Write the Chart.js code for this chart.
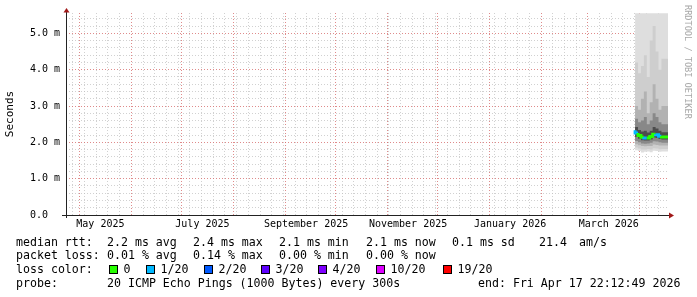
<!DOCTYPE html>
<html>
<head>
<meta charset="utf-8">
<script src="https://cdn.jsdelivr.net/npm/chart.js@4.4.1/dist/chart.umd.min.js"></script>
<style>
  body { margin: 0; background: #fff; }
  #wrap { position: relative; width: 697px; height: 297px; font-family: 'DejaVu Sans Mono', monospace; }
  canvas { position: absolute; left: 0; top: 0; }
  .t { position: absolute; font-size: 11.6px; line-height: 14px; white-space: pre; color: #000; }
  .box { position: absolute; width: 7px; height: 7px; border: 1px solid #000; }
  #credit { position: absolute; left: 683px; top: 5px; writing-mode: vertical-rl; font-size: 8.6px; color: #a8a8a8; white-space: pre; }
</style>
</head>
<body>
<div id="wrap">
  <canvas id="chart" width="697" height="297"></canvas>
  <div id="credit">RRDTOOL / TOBI OETIKER</div>
</div>
<script>
// time range: last 360 days up to the end stamp
const END = Date.UTC(2026, 3, 17, 22, 12, 49);
const DAY = 86400000;
const START = END - 360 * DAY;

// samples (only the last ~3 weeks hold data)
const times = [
  '2026-03-29T06:00Z', '2026-03-31T00:00Z', '2026-04-01T18:00Z', '2026-04-03T12:00Z',
  '2026-04-05T06:00Z', '2026-04-07T00:00Z', '2026-04-08T18:00Z', '2026-04-10T12:00Z',
  '2026-04-12T06:00Z', '2026-04-14T00:00Z', '2026-04-15T18:00Z', '2026-04-17T22:00Z'
];
// median rtt in ms
const median   = [2.33, 2.26, 2.19, 2.14, 2.12, 2.12, 2.16, 2.22, 2.21, 2.17, 2.15, 2.15];
// lost pings out of 20
const lost     = [1, 0, 0, 1, 0, 0, 0, 1, 1, 0, 0, 0];

// smoke bands, outer (light) to inner (dark), in ms
const smoke1Lo = [1.80, 1.78, 1.76, 1.72, 1.74, 1.75, 1.73, 1.77, 1.76, 1.74, 1.75, 1.75];
const smoke1Hi = [5.55, 5.55, 5.55, 5.55, 5.55, 5.55, 5.55, 5.55, 5.55, 5.55, 5.55, 5.55];
const smoke2Lo = [1.88, 1.86, 1.83, 1.80, 1.80, 1.82, 1.80, 1.84, 1.83, 1.81, 1.82, 1.82];
const smoke2Hi = [4.60, 4.20, 3.90, 4.10, 4.40, 3.80, 4.80, 5.20, 4.50, 4.00, 4.30, 4.30];
const smoke3Lo = [1.97, 1.95, 1.92, 1.90, 1.89, 1.90, 1.90, 1.94, 1.93, 1.91, 1.91, 1.91];
const smoke3Hi = [3.30, 3.00, 2.90, 3.20, 3.40, 2.80, 3.10, 3.60, 3.20, 2.90, 3.00, 3.00];
const smoke4Lo = [2.08, 2.04, 2.00, 1.97, 1.96, 1.97, 1.99, 2.03, 2.02, 2.00, 1.99, 1.99];
const smoke4Hi = [2.75, 2.65, 2.55, 2.60, 2.70, 2.50, 2.60, 2.80, 2.70, 2.55, 2.50, 2.50];
const smoke5Lo = [2.20, 2.15, 2.10, 2.06, 2.05, 2.05, 2.08, 2.13, 2.12, 2.09, 2.08, 2.08];
const smoke5Hi = [2.50, 2.42, 2.34, 2.30, 2.32, 2.27, 2.32, 2.42, 2.38, 2.32, 2.28, 2.28];
const smokeColors = ['#dedede', '#cecece', '#b2b2b2', '#888888', '#4c4c4c'];

// x axis labels
const monthLabels = ['May 2025', 'July 2025', 'September 2025', 'November 2025', 'January 2026', 'March 2026'];
const labelMonths = [[2025, 4], [2025, 6], [2025, 8], [2025, 10], [2026, 0], [2026, 2]];

// legend
const medianStats = ['2.2 ms avg', '2.4 ms max', '2.1 ms min', '2.1 ms now', '0.1 ms sd', '21.4', 'am/s'];
const lossStats = ['0.01 % avg', '0.14 % max', '0.00 % min', '0.00 % now'];
const lossLevels = [0, 1, 2, 3, 4, 10, 19];
const lossNames = ['0', '1/20', '2/20', '3/20', '4/20', '10/20', '19/20'];
const lossColors = ['#26ff00', '#00b8ff', '#0059ff', '#5e00ff', '#7e00ff', '#dd00ff', '#ff0000'];
const probeText = '20 ICMP Echo Pings (1000 Bytes) every 300s';
const endText = 'end: Fri Apr 17 22:12:49 2026';

const FONT = "'DejaVu Sans Mono', monospace";

function lossColor(n) {
  let c = lossColors[0];
  lossLevels.forEach((lv, i) => { if (n >= lv) c = lossColors[i]; });
  return c;
}

function pts(arr) {
  return arr.map((v, i) => ({ x: Date.parse(times[i]), y: v }));
}

function xTicks() {
  const t = [];
  const months = [];
  for (let i = 0; i < 13; i++) {
    const v = Date.UTC(2025, 4 + i, 1);
    if (v < END) months.push(v);
  }
  // weekly lines fall on sundays
  for (let d = Date.UTC(2025, 3, 27); d < END; d += 7 * DAY) {
    if (d > START && !months.includes(d)) t.push({ value: d, kind: 'minor' });
  }
  months.forEach(v => t.push({ value: v, kind: 'major' }));
  labelMonths.forEach(([y, m], i) => {
    t.push({ value: Date.UTC(y, m, 1) + 12.5 * DAY, kind: 'label', text: monthLabels[i] });
  });
  return t.sort((a, b) => a.value - b.value);
}

function yTicks() {
  const t = [];
  for (let i = 1; i <= 27; i++) t.push({ value: i / 5, kind: i % 5 === 0 ? 'major' : 'minor' });
  t.unshift({ value: 0, kind: 'zero' });
  return t;
}

const gridColor = c => {
  const k = c.tick && c.tick.kind;
  if (k === 'major') return 'rgba(215,110,110,0.8)';
  if (k === 'minor') return 'rgba(190,190,190,0.7)';
  return 'rgba(0,0,0,0)';
};

const datasets = [{
  data: pts(median),
  borderWidth: 3,
  borderColor: lossColors[0],
  stepped: 'after',
  segment: { borderColor: c => lossColor(lost[c.p0DataIndex]) },
  order: 0
}];
const bands = [
  [smoke5Lo, smoke5Hi], [smoke4Lo, smoke4Hi], [smoke3Lo, smoke3Hi], [smoke2Lo, smoke2Hi], [smoke1Lo, smoke1Hi]
];
bands.forEach(([lo, hi], i) => {
  const col = smokeColors[4 - i];
  datasets.push({ data: pts(lo), borderColor: 'rgba(0,0,0,0)', stepped: 'after', fill: false, order: i + 1 });
  datasets.push({ data: pts(hi), borderColor: 'rgba(0,0,0,0)', backgroundColor: col, stepped: 'after', fill: '-1', order: i + 1 });
});

const axisArrows = {
  id: 'axisArrows',
  afterDraw(chart) {
    const { ctx, chartArea: a } = chart;
    ctx.save();
    ctx.strokeStyle = '#222';
    ctx.lineWidth = 1;
    ctx.beginPath();
    ctx.moveTo(a.left - 4, a.bottom + 0.5);
    ctx.lineTo(a.right + 2, a.bottom + 0.5);
    ctx.moveTo(a.left + 0.5, a.bottom + 3);
    ctx.lineTo(a.left + 0.5, a.top - 2);
    ctx.stroke();
    ctx.fillStyle = '#a01818';
    ctx.beginPath();
    ctx.moveTo(a.right + 1, a.bottom - 2.5);
    ctx.lineTo(a.right + 6, a.bottom + 0.5);
    ctx.lineTo(a.right + 1, a.bottom + 3.5);
    ctx.fill();
    ctx.beginPath();
    ctx.moveTo(a.left - 2.5, a.top - 0.5);
    ctx.lineTo(a.left + 0.5, a.top - 5);
    ctx.lineTo(a.left + 3.5, a.top - 0.5);
    ctx.fill();
    ctx.restore();
  }
};

new Chart(document.getElementById('chart'), {
  type: 'line',
  data: { datasets },
  plugins: [axisArrows],
  options: {
    responsive: false,
    animation: false,
    devicePixelRatio: 1,
    layout: { padding: { left: 0, right: 29, top: 13, bottom: 0 } },
    plugins: { legend: { display: false }, tooltip: { enabled: false } },
    elements: { point: { radius: 0 }, line: { tension: 0 } },
    scales: {
      x: {
        type: 'linear',
        min: START,
        max: END,
        afterBuildTicks: s => { s.ticks = xTicks(); },
        afterFit: s => { s.height = 82; },
        grid: { color: gridColor, lineWidth: 1, drawTicks: false },
        border: { display: false, dash: [1, 2] },
        ticks: {
          autoSkip: false, maxRotation: 0, minRotation: 0, padding: 3,
          color: '#000', font: { family: FONT, size: 10 },
          callback: function (v, i, ticks) { return ticks[i].kind === 'label' ? ticks[i].text : ''; }
        }
      },
      y: {
        min: 0,
        max: 5.56,
        afterBuildTicks: s => { s.ticks = yTicks(); },
        afterFit: s => { s.width = 66; },
        grid: { color: gridColor, lineWidth: 1, drawTicks: false },
        border: { display: false, dash: [1, 2] },
        title: { display: true, text: 'Seconds', color: '#000', font: { family: FONT, size: 11 }, padding: { top: 4, bottom: 4 } },
        ticks: {
          autoSkip: false, padding: 6,
          color: '#000', font: { family: FONT, size: 10 },
          callback: function (v, i, ticks) {
            const k = ticks[i].kind;
            if (k === 'zero') return '0.0  ';
            return k === 'major' ? v.toFixed(1) + ' m' : '';
          }
        }
      }
    }
  }
});

// legend block under the chart
const wrap = document.getElementById('wrap');
function text(s, x, y) {
  const d = document.createElement('div');
  d.className = 't';
  d.style.left = x + 'px';
  d.style.top = y + 'px';
  d.textContent = s;
  wrap.appendChild(d);
}
const rows = [234.5, 248.3, 262.3, 276.3];
const statX = [107, 193, 279, 366, 452, 539, 579];
const boxX = [109, 146, 204, 261, 318, 376, 443];

text('median rtt:', 16, rows[0]);
medianStats.forEach((s, i) => text(s, statX[i], rows[0]));
text('packet loss:', 16, rows[1]);
lossStats.forEach((s, i) => text(s, statX[i], rows[1]));
text('loss color:', 16, rows[2]);
lossNames.forEach((s, i) => {
  const b = document.createElement('div');
  b.className = 'box';
  b.style.left = boxX[i] + 'px';
  b.style.top = '264.5px';
  b.style.background = lossColors[i];
  wrap.appendChild(b);
  text(s, boxX[i] + 14.6, rows[2]);
});
text('probe:', 16, rows[3]);
text(probeText, 107, rows[3]);
text(endText, 478, rows[3]);
</script>
</body>
</html>
